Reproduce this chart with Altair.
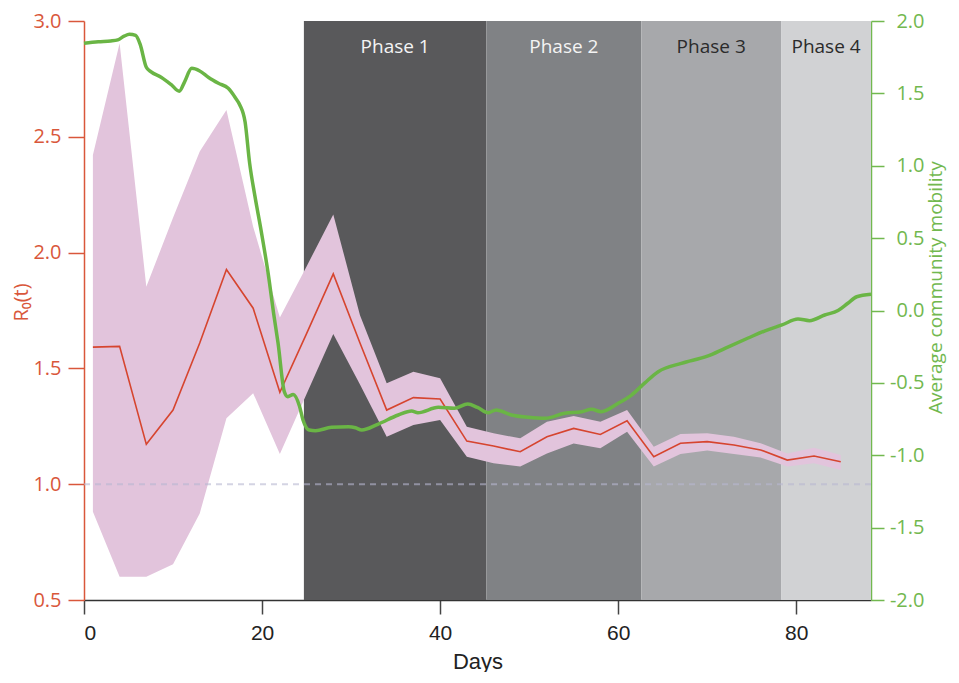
import altair as alt
import pandas as pd

# ---------------- data ----------------
days = [1, 4, 7, 10, 13, 16, 19, 22, 25, 28, 31, 34, 37, 40, 43, 46, 49, 52, 55, 58,
        61, 64, 67, 70, 73, 76, 79, 82, 85]
r0_mean = [1.592, 1.595, 1.172, 1.32, 1.61, 1.927, 1.76, 1.397, 1.65, 1.908, 1.61, 1.32,
           1.374, 1.368, 1.186, 1.165, 1.14, 1.205, 1.241, 1.215, 1.274, 1.119, 1.177,
           1.184, 1.169, 1.148, 1.104, 1.122, 1.097]
r0_lower = [0.881, 0.60, 0.60, 0.654, 0.874, 1.285, 1.393, 1.13, 1.39, 1.648, 1.43, 1.205,
            1.256, 1.277, 1.119, 1.09, 1.076, 1.133, 1.176, 1.155, 1.227, 1.076, 1.13,
            1.145, 1.13, 1.115, 1.076, 1.09, 1.061]
r0_upper = [2.421, 2.904, 1.853, 2.15, 2.436, 2.616, 2.112, 1.72, 1.94, 2.165, 1.73, 1.436,
            1.486, 1.457, 1.248, 1.22, 1.198, 1.27, 1.295, 1.27, 1.32, 1.162, 1.217,
            1.22, 1.205, 1.177, 1.133, 1.157, 1.126]

mob_days = [0, 1.6, 3.0, 3.8, 4.5, 5.1, 5.8, 6.3, 7.0, 7.5, 8.7, 9.8, 10.7, 11.3, 12.1,
            13.0, 14.0, 15.1, 16.2, 17.0, 17.5, 18.1, 18.6, 19.2, 19.9, 20.7, 21.3, 21.8,
            22.5, 22.9, 23.5, 24.2, 24.6, 25.3, 26.0, 27.8, 29.7, 30.5, 31.2, 33.0, 35.3,
            36.8, 37.5, 39.8, 41.6, 43.1, 44.2, 45.4, 46.3, 48.0, 49.9, 51.8, 54.0, 55.9,
            57.0, 58.1, 60.0, 61.5, 63.0, 64.5, 67.1, 70.1, 72.0, 74.6, 76.5, 78.4, 80.2,
            81.5, 83.2, 84.7, 85.8, 86.8, 88.4]
mob_values = [1.846, 1.857, 1.862, 1.87, 1.895, 1.908, 1.9, 1.84, 1.68, 1.65, 1.61, 1.56,
              1.515, 1.58, 1.673, 1.655, 1.61, 1.57, 1.535, 1.47, 1.42, 1.30, 1.02, 0.79,
              0.55, 0.25, -0.02, -0.227, -0.56, -0.595, -0.58, -0.66, -0.756, -0.826,
              -0.83, -0.807, -0.803, -0.81, -0.826, -0.786, -0.722, -0.694, -0.706,
              -0.669, -0.676, -0.646, -0.67, -0.706, -0.687, -0.722, -0.738, -0.745,
              -0.71, -0.699, -0.683, -0.699, -0.641, -0.584, -0.50, -0.423, -0.365,
              -0.314, -0.261, -0.19, -0.14, -0.1, -0.059, -0.07, -0.031, 0.0, 0.05,
              0.095, 0.112]

phase_names = ["Phase 1", "Phase 2", "Phase 3", "Phase 4"]
phase_start = [24.7, 45.2, 62.6, 78.3]
phase_end = [45.2, 62.6, 78.3, 88.4]
phase_fill = ["#59595b", "#808285", "#a7a8ab", "#d1d2d4"]
phase_text = ["#f4f4f4", "#f4f4f4", "#2b2b2b", "#2b2b2b"]

threshold = [1.0]

x_ticks = [0, 20, 40, 60, 80]
left_ticks = [0.5, 1.0, 1.5, 2.0, 2.5, 3.0]
right_ticks = [-2.0, -1.5, -1.0, -0.5, 0.0, 0.5, 1.0, 1.5, 2.0]

# ---------------- tables ----------------
r0_df = pd.DataFrame({"day": days, "mean": r0_mean, "lower": r0_lower, "upper": r0_upper})
mob_df = pd.DataFrame({"day": mob_days, "mob": mob_values})
phase_df = pd.DataFrame({
    "name": phase_names, "start": phase_start, "end": phase_end,
    "fill": phase_fill, "tcolor": phase_text,
})
phase_df["mid"] = (phase_df["start"] + phase_df["end"]) / 2
thr_df = pd.DataFrame({"thr": threshold})

W, H = 787, 579
RED = "#d9573b"
GREEN = "#72b84f"
LINE_GREEN = "#6ab545"
SANS = "Open Sans"
HYPHEN_LABEL = "replace(format(datum.value, '.1f'), '\u2212', '-')"

xscale = alt.Scale(domain=[0, 88.4], nice=False, zero=False)
x_axis = alt.Axis(
    values=x_ticks, title="Days", grid=False,
    domainColor="#333333", domainWidth=1.5, tickColor="#444444", tickWidth=1.5,
    tickSize=14, labelFont="Liberation Sans", labelFontSize=21, labelColor="#222222",
    labelPadding=8, titleFont="Liberation Sans", titleFontSize=22,
    titleFontWeight="normal", titleColor="#222222", titlePadding=8,
)
yL = alt.Scale(domain=[0.5, 3.0], nice=False, zero=False)
yL_axis = alt.Axis(
    values=left_ticks, format=".1f", title="R₀(t)", grid=False, orient="left",
    domainColor=RED, domainWidth=1.5, tickColor=RED, tickWidth=1.5, tickSize=16,
    labelFont=SANS, labelFontSize=20, labelColor=RED, labelPadding=7,
    titleFont=SANS, titleFontSize=20, titleFontWeight="normal", titleColor=RED,
    titlePadding=1, titleY=281,
)
yR = alt.Scale(domain=[-2.0, 2.0], nice=False, zero=False)
yR_axis = alt.Axis(
    values=right_ticks, labelExpr=HYPHEN_LABEL, title="Average community mobility",
    grid=False, orient="right", domainColor=GREEN, domainWidth=1.5, tickColor=GREEN,
    tickWidth=1.5, tickSize=13, labelFont=SANS, labelFontSize=20, labelColor=GREEN,
    labelAlign="right", labelPadding=40, titleFont=SANS, titleFontSize=19,
    titleFontWeight="normal", titleColor=GREEN, titlePadding=2, titleAngle=270,
    titleBaseline="top", titleY=266,
)

X = lambda f: alt.X(f, scale=xscale, axis=x_axis)

rects = alt.Chart(phase_df).mark_rect().encode(
    x=X("start:Q"),
    x2="end:Q",
    y=alt.value(0),
    y2=alt.value(H),
    color=alt.Color("fill:N", scale=None),
)
labels = alt.Chart(phase_df).mark_text(
    font=SANS, fontSize=19, baseline="middle", align="center"
).encode(
    x=X("mid:Q"),
    y=alt.value(26),
    text="name:N",
    color=alt.Color("tcolor:N", scale=None),
)

band = alt.Chart(r0_df).mark_area(color="#e2c4dc", opacity=1).encode(
    x=X("day:Q"),
    y=alt.Y("lower:Q", scale=yL, axis=yL_axis),
    y2="upper:Q",
)
rule = alt.Chart(thr_df).mark_rule(
    strokeDash=[6, 5], color="#b8b8d0", opacity=0.6, strokeWidth=2
).encode(y=alt.Y("thr:Q", scale=yL, axis=yL_axis))
red = alt.Chart(r0_df).mark_line(color="#d6452f", strokeWidth=1.6).encode(
    x=X("day:Q"),
    y=alt.Y("mean:Q", scale=yL, axis=yL_axis),
)
left = alt.layer(band, rule, red)

green = alt.Chart(mob_df).mark_line(
    color=LINE_GREEN, strokeWidth=3.5, interpolate="monotone"
).encode(
    x=X("day:Q"),
    y=alt.Y("mob:Q", scale=yR, axis=yR_axis),
)

chart = alt.layer(rects, labels, left, green).resolve_scale(
    y="independent"
).properties(
    width=W, height=H,
    padding={"left": 3, "top": 3, "right": 5, "bottom": 0},
).configure_view(stroke=None)

chart.save("out.html", embed_options={"renderer": "svg", "actions": False})
